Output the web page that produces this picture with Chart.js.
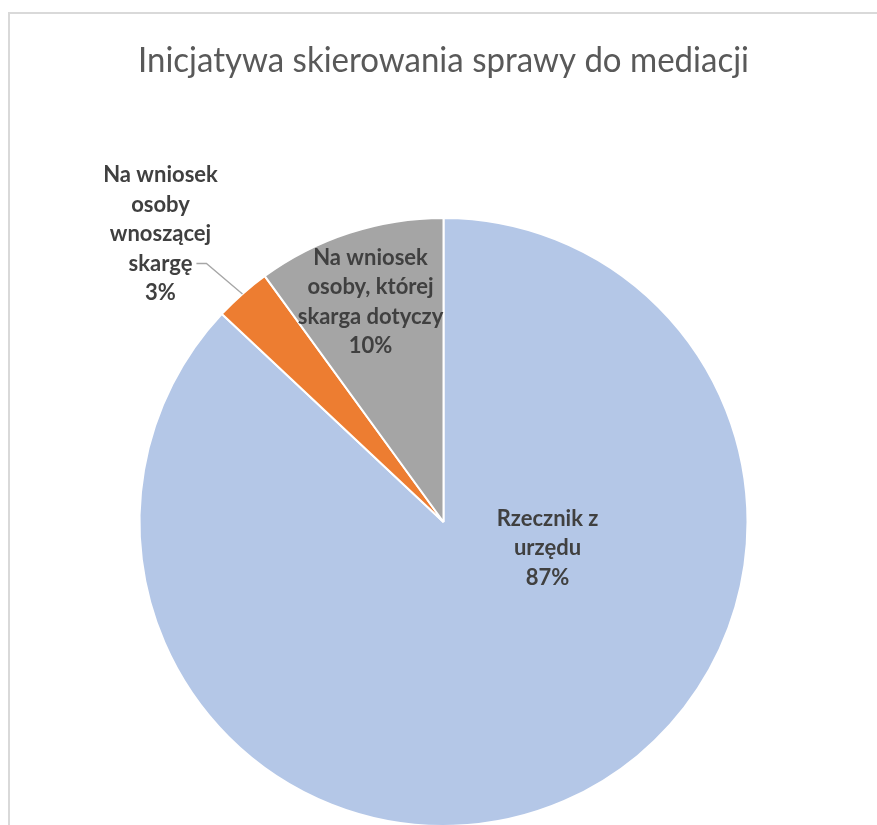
<!DOCTYPE html>
<html>
<head>
<meta charset="utf-8">
<title>Inicjatywa skierowania sprawy do mediacji</title>
<script src="https://cdn.jsdelivr.net/npm/chart.js@4.4.1/dist/chart.umd.min.js"></script>
<style>
  html, body { margin: 0; padding: 0; overflow: hidden; background: #fff; }
  #frame {
    position: absolute; left: 8px; top: 12px;
    width: 1000px; height: 1000px;
    border: 2px solid #d9d9d9;
  }
  #wrap { position: absolute; left: 0; top: 0; width: 877px; height: 850px; }
</style>
</head>
<body>
<div id="frame"></div>
<div id="wrap"><canvas id="mediationChart"></canvas></div>
<script>
  // kategorie (wiersze etykiet) i udziały w procentach
  const categories = [
    ['Rzecznik z', 'urzędu'],
    ['Na wniosek', 'osoby', 'wnoszącej', 'skargę'],
    ['Na wniosek', 'osoby, której', 'skarga dotyczy']
  ];
  const shares = [87, 3, 10];

  const sliceColors = ['#B4C7E7', '#ED7D31', '#A5A5A5'];

  // położenie etykiet względem środka koła (px), outside = z linią odniesienia
  const labelPlacement = [
    { dx: 104, dy: 26, outside: false },
    { dx: -283, dy: -288, outside: true },
    { dx: -73, dy: -220, outside: false }
  ];

  const LABEL_FONT = 'bold 22px Lato, "Open Sans", sans-serif';
  const LINE_H = 29.5;

  const pieLabels = {
    id: 'pieLabels',
    afterDatasetsDraw(chart) {
      const ctx = chart.ctx;
      const meta = chart.getDatasetMeta(0);
      ctx.save();
      ctx.font = LABEL_FONT;
      ctx.fillStyle = '#404040';
      ctx.textAlign = 'center';
      ctx.textBaseline = 'middle';

      meta.data.forEach((arc, i) => {
        const lines = categories[i].concat([shares[i] + '%']);
        const place = labelPlacement[i];
        const cx = arc.x + place.dx;
        const cy = arc.y + place.dy;
        const top = cy - (lines.length - 1) * LINE_H / 2;

        lines.forEach((txt, k) => ctx.fillText(txt, cx, top + k * LINE_H));

        if (place.outside) {
          // linia odniesienia od końca przedostatniego wiersza do krawędzi wycinka
          const k = lines.length - 2;
          const w = ctx.measureText(lines[k]).width;
          const sx = cx + w / 2 + 4;
          const sy = top + k * LINE_H;
          const mid = (arc.startAngle + arc.endAngle) / 2;
          const ex = arc.x + Math.cos(mid) * arc.outerRadius;
          const ey = arc.y + Math.sin(mid) * arc.outerRadius;
          ctx.beginPath();
          ctx.moveTo(sx, sy);
          ctx.lineTo(sx + 10, sy);
          ctx.lineTo(ex, ey);
          ctx.strokeStyle = '#a6a6a6';
          ctx.lineWidth = 1.3;
          ctx.stroke();
        }
      });
      ctx.restore();
    }
  };

  new Chart(document.getElementById('mediationChart'), {
    type: 'pie',
    data: {
      labels: categories.map(c => c.join(' ')),
      datasets: [{
        data: shares,
        backgroundColor: sliceColors,
        borderColor: '#ffffff',
        borderWidth: 2
      }]
    },
    options: {
      responsive: true,
      maintainAspectRatio: false,
      animation: false,
      events: [],
      layout: { padding: { left: 138, right: 128, top: 0, bottom: 23 } },
      plugins: {
        legend: { display: false },
        tooltip: { enabled: false },
        title: {
          display: true,
          text: 'Inicjatywa skierowania sprawy do mediacji',
          color: '#595959',
          font: { family: 'Lato, "Open Sans", sans-serif', size: 35, weight: 'normal', lineHeight: 1.2 },
          padding: { top: 40, bottom: 135 }
        }
      }
    },
    plugins: [pieLabels]
  });
</script>
</body>
</html>
